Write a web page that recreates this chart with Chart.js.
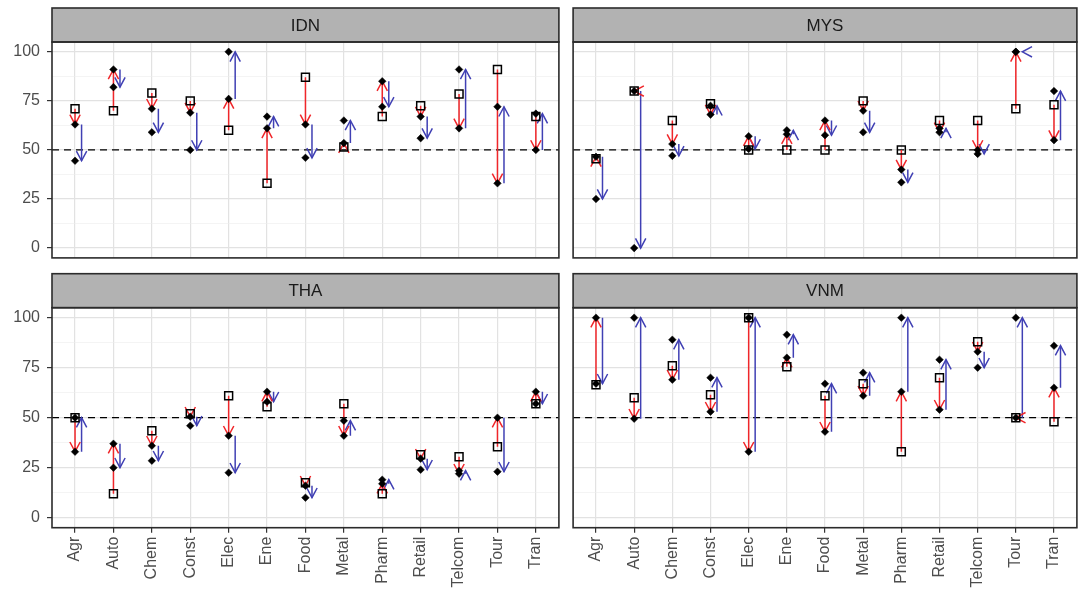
<!DOCTYPE html>
<html>
<head>
<meta charset="utf-8">
<script src="https://cdn.jsdelivr.net/npm/chart.js@4.4.1/dist/chart.umd.min.js"></script>
<style>
  html, body { margin: 0; padding: 0; background: #ffffff; }
  #figure { position: relative; width: 1084px; height: 597px; overflow: hidden; background: #ffffff; }
  #figure canvas { position: absolute; }
</style>
</head>
<body>
<div id="figure">
  <canvas id="pIDN" width="566" height="265" style="left:0;top:0"></canvas>
  <canvas id="pMYS" width="518" height="265" style="left:566px;top:0"></canvas>
  <canvas id="pTHA" width="566" height="332" style="left:0;top:265px"></canvas>
  <canvas id="pVNM" width="518" height="332" style="left:566px;top:265px"></canvas>
</div>
<script>
// Sectors on the x axis
const categories = ['Agr', 'Auto', 'Chem', 'Const', 'Elec', 'Ene', 'Food', 'Metal', 'Pharm', 'Retail', 'Telcom', 'Tour', 'Tran'];

// Labelled y ticks; minor grid lines fall half way between them
const yTickValues = [0, 25, 50, 75, 100];
const referenceLevel = 50;

// Per country: starting score (square), intermediate score (red arrow end),
// final score (blue arrow end)
const idnStart = [71, 70, 79, 75, 60, 33, 87, 51.5, 67, 72.5, 78.5, 91, 67];
const idnMid   = [63, 91, 71, 69, 76, 61, 63, 53.5, 85, 67, 61, 33, 50];
const idnEnd   = [44.5, 82, 59, 50, 100, 67, 46, 65, 72, 56, 91, 72, 68.5];

const mysStart = [45.5, 80, 65, 73.5, 50, 50, 50, 75, 50, 65, 65, 71, 73];
const mysMid   = [46.5, 80, 53, 68, 57, 58, 65, 70, 40, 59, 50, 100, 55];
const mysEnd   = [25, 0, 47, 72.5, 50.5, 60, 57.5, 59, 33.5, 61, 48, 100, 80];

const thaStart = [50, 12, 43.5, 52, 61, 55.5, 17.5, 57, 12, 31.5, 30.5, 35.5, 57];
const thaMid   = [33, 37, 36, 50.5, 41, 63, 16, 41, 17, 29.5, 22, 50, 63];
const thaEnd   = [50, 25, 28.5, 46, 22.5, 58, 10, 48.5, 19, 24, 23.5, 23, 57];

const vnmStart = [66.5, 60, 76, 61.5, 100, 75.5, 61, 67, 33, 70, 88, 50, 48];
const vnmMid   = [100, 49.5, 69, 53, 33, 80, 43, 61, 63, 54, 83, 50, 65];
const vnmEnd   = [67, 100, 89, 70, 100, 91.5, 67, 72.5, 100, 79, 75, 100, 86];

const RED = '#F0262A';
const BLUE = '#4040B4';
const BLUE_SHIFT = 0.17;      // blue arrows sit just right of the sector
const FONT = "'Liberation Sans', Arial, Helvetica, sans-serif";

Chart.defaults.font.family = FONT;
Chart.defaults.animation = false;

const minorTicks = yTickValues.slice(1).map((v, i) => (v + yTickValues[i]) / 2);
const yGridValues = yTickValues.concat(minorTicks).sort((a, b) => a - b);
const isMajor = v => yTickValues.includes(v);

// Vertical segments from one series to another, separated by gaps
function segments(from, to, shift) {
  const out = [];
  from.forEach((v, i) => {
    out.push({ x: i + shift, y: v }, { x: i + shift, y: to[i] }, { x: i + shift, y: null });
  });
  return out;
}

// Axis boxes keep exactly the size given, without extra label overhang
function fixSize(scale, w, h) {
  if (w !== null) scale.width = w;
  if (h !== null) scale.height = h;
  scale.paddingTop = 0;
  scale.paddingBottom = 0;
  scale.paddingLeft = 0;
  scale.paddingRight = 0;
}

// Grey strip with the country code, and the dark panel frame
const panelFrame = {
  id: 'panelFrame',
  afterDraw(chart, args, opts) {
    const { ctx, chartArea: a } = chart;
    const h = opts.stripHeight;
    ctx.save();
    ctx.fillStyle = '#B2B2B2';
    ctx.fillRect(a.left, a.top - h, a.right - a.left, h);
    ctx.strokeStyle = '#2B2B2B';
    ctx.lineWidth = 1.6;
    ctx.strokeRect(a.left, a.top - h, a.right - a.left, h);
    ctx.strokeRect(a.left, a.top, a.right - a.left, a.bottom - a.top);
    ctx.fillStyle = '#1A1A1A';
    ctx.font = '17px ' + FONT;
    ctx.textAlign = 'center';
    ctx.textBaseline = 'middle';
    ctx.fillText(opts.title, (a.left + a.right) / 2, a.top - h / 2 + 1);
    ctx.restore();
  }
};

// Open arrow heads at the end of every shaft segment
const arrowHeads = {
  id: 'arrowHeads',
  afterDatasetDraw(chart, args) {
    const ds = chart.data.datasets[args.index];
    if (!ds.arrow) return;
    const { ctx, chartArea: a } = chart;
    const xs = chart.scales.x, ys = chart.scales.y;
    const L = 11, ang = 28 * Math.PI / 180;
    ctx.save();
    ctx.beginPath();
    ctx.rect(a.left, a.top, a.right - a.left, a.bottom - a.top);
    ctx.clip();
    ctx.strokeStyle = ds.borderColor;
    ctx.lineWidth = ds.borderWidth;
    ctx.lineJoin = 'miter';
    for (let k = 0; k + 1 < ds.data.length; k += 3) {
      const p0 = ds.data[k], p1 = ds.data[k + 1];
      const x0 = xs.getPixelForValue(p0.x), y0 = ys.getPixelForValue(p0.y);
      const x1 = xs.getPixelForValue(p1.x), y1 = ys.getPixelForValue(p1.y);
      let dx = x1 - x0, dy = y1 - y0;
      const len = Math.hypot(dx, dy);
      if (len < 0.5) { dx = -1; dy = 0; } else { dx /= len; dy /= len; }
      const bx = -dx, by = -dy;
      const c = Math.cos(ang), s = Math.sin(ang);
      const ax1 = x1 + L * (bx * c - by * s), ay1 = y1 + L * (bx * s + by * c);
      const ax2 = x1 + L * (bx * c + by * s), ay2 = y1 + L * (-bx * s + by * c);
      ctx.beginPath();
      ctx.moveTo(ax1, ay1);
      ctx.lineTo(x1, y1);
      ctx.lineTo(ax2, ay2);
      ctx.stroke();
    }
    ctx.restore();
  }
};

function makePanel(id, title, start, mid, end, showX, showY, layout) {
  const pointData = [];
  mid.forEach((v, i) => pointData.push({ x: i, y: v }, { x: i, y: end[i] }));
  return new Chart(document.getElementById(id), {
    type: 'scatter',
    data: {
      datasets: [
        {
          label: 'scores',
          data: pointData,
          pointStyle: 'rectRot',
          pointRadius: 3.8,
          backgroundColor: '#000000',
          borderColor: '#000000',
          borderWidth: 0.5
        },
        {
          label: 'start',
          data: start.map((v, i) => ({ x: i, y: v })),
          pointStyle: 'rect',
          pointRadius: 5.6,
          backgroundColor: 'rgba(0,0,0,0)',
          borderColor: '#000000',
          borderWidth: 1.5
        },
        {
          label: 'first change',
          data: segments(start, mid, 0),
          showLine: true,
          spanGaps: false,
          arrow: true,
          borderColor: RED,
          borderWidth: 1.5,
          pointRadius: 0
        },
        {
          label: 'second change',
          data: segments(mid, end, BLUE_SHIFT),
          showLine: true,
          spanGaps: false,
          arrow: true,
          borderColor: BLUE,
          borderWidth: 1.5,
          pointRadius: 0
        },
        {
          label: 'reference',
          data: [{ x: -0.6, y: referenceLevel }, { x: categories.length - 0.4, y: referenceLevel }],
          showLine: true,
          borderColor: '#000000',
          borderWidth: 1.3,
          borderDash: [7, 5],
          pointRadius: 0
        }
      ]
    },
    options: {
      responsive: false,
      events: [],
      layout: { padding: layout },
      plugins: {
        legend: { display: false },
        tooltip: { enabled: false },
        panelFrame: { title: title, stripHeight: 34 }
      },
      scales: {
        x: {
          type: 'linear',
          min: -0.6,
          max: categories.length - 0.4,
          afterBuildTicks: s => { s.ticks = categories.map((c, i) => ({ value: i })); },
          afterFit: s => fixSize(s, null, showX ? 69.3 : 0),
          border: { display: false },
          grid: {
            color: '#E2E2E2',
            lineWidth: 1.2,
            drawTicks: showX,
            tickLength: 5,
            tickColor: '#333333',
            tickWidth: 1.2
          },
          ticks: {
            display: showX,
            autoSkip: false,
            minRotation: 90,
            maxRotation: 90,
            padding: 4,
            color: '#4D4D4D',
            font: { size: 16, family: FONT },
            callback: v => categories[v] !== undefined ? categories[v] : ''
          }
        },
        y: {
          min: -5,
          max: 105,
          afterBuildTicks: s => { s.ticks = yGridValues.map(v => ({ value: v })); },
          afterFit: s => fixSize(s, showY ? 52 : 0, null),
          border: { display: false },
          grid: {
            color: ctx => isMajor(ctx.tick.value) ? '#E2E2E2' : '#EDEDED',
            lineWidth: ctx => isMajor(ctx.tick.value) ? 1.2 : 0.6,
            drawTicks: showY,
            tickLength: 5,
            tickColor: ctx => isMajor(ctx.tick.value) ? '#333333' : 'rgba(0,0,0,0)',
            tickWidth: 1.2
          },
          ticks: {
            display: showY,
            padding: 7,
            color: '#4D4D4D',
            font: { size: 16, family: FONT },
            callback: v => isMajor(v) ? String(v) : ''
          }
        }
      }
    },
    plugins: [panelFrame, arrowHeads]
  });
}

makePanel('pIDN', 'IDN', idnStart, idnMid, idnEnd, false, true,  { left: 0, top: 42, right: 3, bottom: 3 });
makePanel('pMYS', 'MYS', mysStart, mysMid, mysEnd, false, false, { left: 7, top: 42, right: 1.3, bottom: 3 });
makePanel('pTHA', 'THA', thaStart, thaMid, thaEnd, true,  true,  { left: 0, top: 42.7, right: 3, bottom: 0 });
makePanel('pVNM', 'VNM', vnmStart, vnmMid, vnmEnd, true,  false, { left: 7, top: 42.7, right: 1.3, bottom: 0 });
</script>
</body>
</html>
